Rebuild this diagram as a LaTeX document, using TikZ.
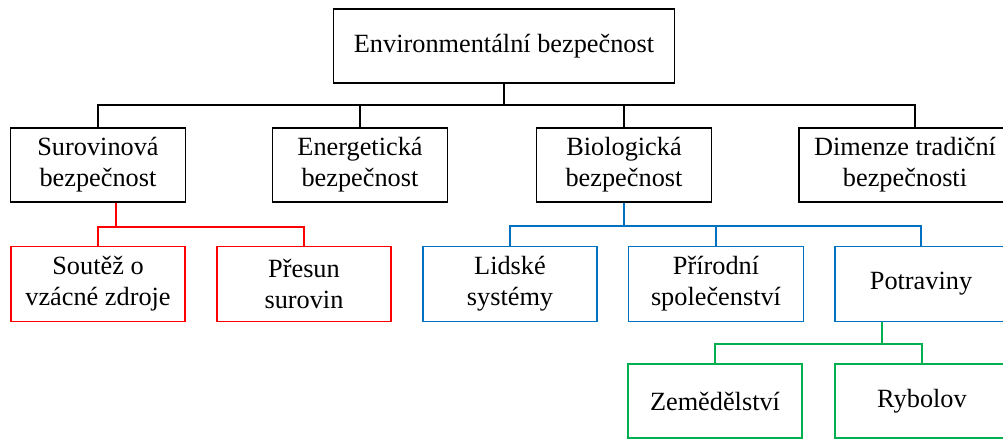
\documentclass[tikz,border=0pt]{standalone}
\usepackage{fontspec}
\setmainfont{Liberation Serif}
\definecolor{redline}{HTML}{FF0000}
\definecolor{blueline}{HTML}{0070C0}
\definecolor{greenline}{HTML}{00B050}
\tikzset{
  box/.style={draw, line width=1.8pt, align=center, inner sep=0pt,
    minimum width=175pt, minimum height=74pt,
    font=\fontsize{26.3}{31}\selectfont},
  link/.style={line width=1.8pt},
}
\begin{document}
\begin{tikzpicture}[x=1pt, y=-1pt]
\useasboundingbox (0,0) rectangle (1003,439);
% top level
\node[box, minimum width=341pt] (env) at (504,46) {Environmentální bezpečnost};
% second row
\node[box] (sur) at (98,165) {Surovinová\\bezpečnost};
\node[box] (ene) at (360,165) {Energetická\\bezpečnost};
\node[box] (bio) at (624,165) {Biologická\\bezpečnost};
\node[box, minimum width=212pt] (dim) at (905,165) {Dimenze tradiční\\bezpečnosti};
% third row
\node[box, draw=redline, line width=1.6pt, minimum width=174pt, minimum height=75pt] (sou) at (98,284) {Soutěž o\\vzácné zdroje};
\node[box, draw=redline, line width=1.6pt, minimum width=174pt, minimum height=75pt] (pre) at (304,284) {Přesun\\surovin};
\node[box, draw=blueline, line width=1.6pt, minimum width=174pt, minimum height=75pt] (lid) at (510,284) {Lidské\\systémy};
\node[box, draw=blueline, line width=1.6pt, minimum width=175pt, minimum height=75pt] (pri) at (716,284) {Přírodní\\společenství};
\node[box, draw=blueline, line width=1.6pt, minimum width=172pt, minimum height=75pt] (pot) at (921,284) {Potraviny};
% fourth row
\node[box, draw=greenline, line width=1.6pt, minimum width=174pt] (zem) at (715,401) {Zemědělství};
\node[box, draw=greenline, line width=1.6pt, minimum width=174pt] (ryb) at (922,401) {Rybolov};
% connectors
\coordinate (bus) at (0,105);
\coordinate (redbus) at (0,227);
\coordinate (bluebus) at (0,226);
\coordinate (greenbus) at (0,344);
\coordinate (dimtop) at ([xshift=10pt]dim.north);
\coordinate (surbot) at ([xshift=18pt]sur.south);
\coordinate (potbot) at ([xshift=-39pt]pot.south);
\foreach \c in {sur,ene,bio,dimtop}
  \draw[link] (env.south) |- (bus -| \c) -- (\c);
\draw[link] (env.south) -- (env.south |- bus);
\foreach \c in {sou,pre}
  \draw[link, redline, line width=1.6pt] (surbot) |- (redbus -| \c.north) -- (\c.north);
\draw[link, redline, line width=1.6pt] (surbot) -- (surbot |- redbus);
\foreach \c in {lid,pri,pot}
  \draw[link, blueline, line width=1.6pt] (bio.south) |- (bluebus -| \c.north) -- (\c.north);
\draw[link, blueline, line width=1.6pt] (bio.south) -- (bio.south |- bluebus);
\foreach \c in {zem,ryb}
  \draw[link, greenline, line width=1.6pt] (potbot) |- (greenbus -| \c.north) -- (\c.north);
\end{tikzpicture}
\end{document}
